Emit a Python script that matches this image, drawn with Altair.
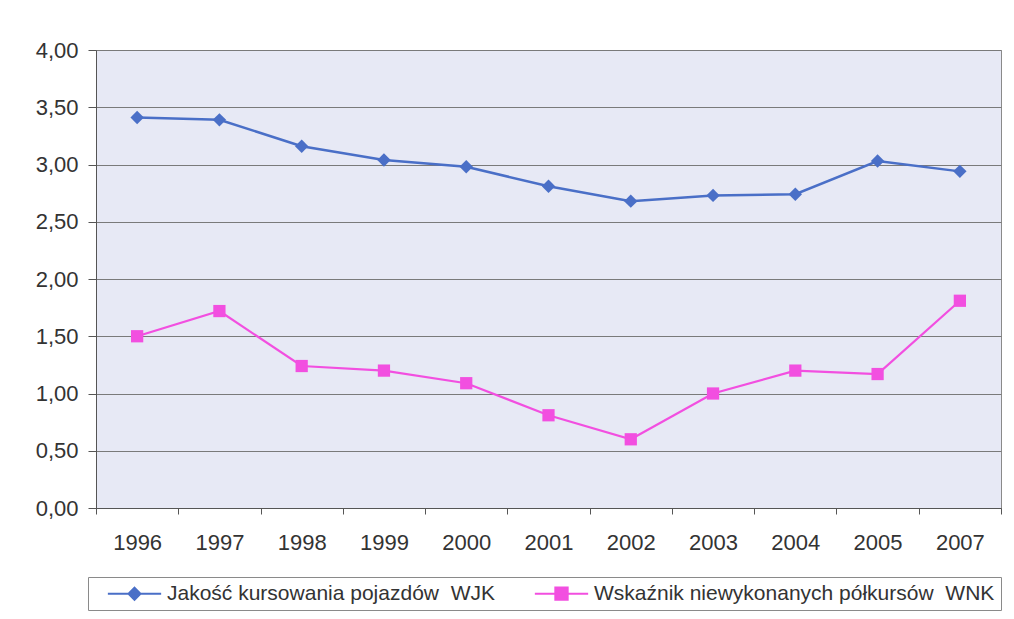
import altair as alt
import pandas as pd

years = ["1996", "1997", "1998", "1999", "2000", "2001", "2002", "2003", "2004", "2005", "2007"]
wjk = [3.41, 3.39, 3.16, 3.04, 2.98, 2.81, 2.68, 2.73, 2.74, 3.03, 2.94]
wnk = [1.50, 1.72, 1.24, 1.20, 1.09, 0.81, 0.60, 1.00, 1.20, 1.17, 1.81]
series_names = ["Jakość kursowania pojazdów \u00a0WJK", "Wskaźnik niewykonanych półkursów \u00a0WNK"]
colors = ["#4a6fc7", "#f24fe0"]
y_ticks = [0, 0.5, 1, 1.5, 2, 2.5, 3, 3.5, 4]

rows = []
for name, vals in zip(series_names, [wjk, wnk]):
    for yr, v in zip(years, vals):
        rows.append({"year": yr, "value": v, "series": name})
df = pd.DataFrame(rows)

FONT = "Liberation Sans"

x_enc = alt.X(
    "year:N", sort=years, bandPosition=0.5, title=None,
    scale=alt.Scale(type="band", paddingInner=0, paddingOuter=0),
    axis=alt.Axis(labelAngle=0, tickBand="extent", tickSize=6, tickColor="#555555",
                  domainColor="#555555", labelFont=FONT, labelFontSize=22,
                  labelColor="#333333", labelPadding=18, grid=False),
)
y_enc = alt.Y(
    "value:Q", title=None, scale=alt.Scale(domain=[0, 4], nice=False),
    axis=alt.Axis(values=y_ticks, labelExpr="replace(format(datum.value, '.2f'), '.', ',')",
                  tickSize=8, tickColor="#555555", domainColor="#555555",
                  gridColor="#7a7a7a", gridWidth=1, labelFont=FONT, labelFontSize=22,
                  labelColor="#333333", labelPadding=10),
)

base = alt.Chart(df).encode(x=x_enc, y=y_enc)
sa = base.transform_filter(alt.datum.series == series_names[0])
sb = base.transform_filter(alt.datum.series == series_names[1])

line_a = sa.mark_line(strokeWidth=2.5, color=colors[0])
line_b = sb.mark_line(strokeWidth=2.2, color=colors[1])
pts_a = sa.mark_point(shape="diamond", filled=True, size=180, color=colors[0], opacity=1)
pts_b = sb.mark_point(shape="square", filled=True, size=150, color=colors[1], opacity=1)

color_scale = alt.Scale(domain=series_names, range=colors)
sym_diamond = "M-4.1,0L4.1,0M0,-0.92L0.92,0L0,0.92L-0.92,0Z"
sym_square = "M-4.1,0L4.1,0M-0.95,-0.95L0.95,-0.95L0.95,0.95L-0.95,0.95Z"

leg = alt.Legend(title=None, orient="none", legendX=-8, legendY=527, direction="horizontal",
                 strokeColor="#8a8a8a", padding=6, labelFont=FONT, labelFontSize=21,
                 labelColor="#333333", symbolOpacity=1, symbolSize=169, symbolStrokeWidth=2,
                 symbolOffset=30, columnPadding=26, labelOffset=22, labelLimit=600)

legend_layer = base.transform_filter("false").mark_point(size=169, strokeWidth=2).encode(
    fill=alt.Fill("series:N", scale=color_scale, legend=leg),
    stroke=alt.Stroke("series:N", scale=color_scale, legend=leg),
    shape=alt.Shape("series:N", scale=alt.Scale(domain=series_names, range=[sym_diamond, sym_square]), legend=leg),
)

chart = alt.layer(line_a, line_b, pts_a, pts_b, legend_layer).properties(
    width=905, height=458,
    background="white",
    autosize=alt.AutoSizeParams(type="none"),
    padding={"left": 88, "top": 42, "right": 5, "bottom": 103},
).configure_view(fill="#e7e9f5", stroke="#8a8a8a")

chart.save("out.html", embed_options={"renderer": "svg", "actions": False})
